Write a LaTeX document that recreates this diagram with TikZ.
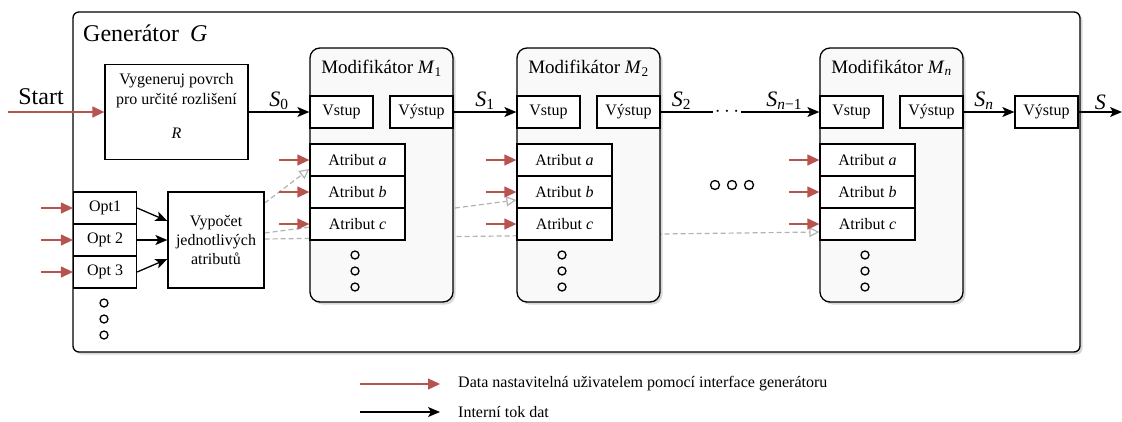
\documentclass[tikz,border=0pt]{standalone}
\usepackage{fontspec}
\setmainfont{Liberation Serif}
\usetikzlibrary{arrows.meta,positioning,shadows,backgrounds}
\definecolor{userred}{HTML}{B85450}
\definecolor{dashgray}{HTML}{B3B3B3}
\definecolor{modfill}{HTML}{F9F9F9}
\tikzset{
	box/.style={draw, line width=1.3pt, fill=white, inner sep=2pt, font=\fontsize{16}{19}\selectfont},
	port/.style={box, minimum width=63pt, minimum height=32pt},
	attr/.style={box, minimum width=95pt, minimum height=32pt},
	modbox/.style={draw, line width=1.3pt, fill=modfill, rounded corners=10pt, minimum width=143pt, minimum height=254pt,
		drop shadow={shadow xshift=2.5pt, shadow yshift=-2.5pt, opacity=0.3}},
	genbox/.style={draw, line width=1.3pt, fill=white, rounded corners=6pt,
		drop shadow={shadow xshift=2.5pt, shadow yshift=-2.5pt, opacity=0.3}},
	flow/.style={line width=1.3pt, -{Stealth[length=12pt, width=10pt, inset=3pt]}},
	userin/.style={userred, line width=1.3pt, -{Triangle[length=12pt, width=11pt]}},
	feed/.style={dashgray, line width=1.2pt, dash pattern=on 5pt off 3pt, -{Triangle[open, length=10pt, width=10pt]}},
	slabel/.style={font=\fontsize{22}{22}\selectfont, inner sep=2pt}
}
% one modifier block: left edge, name suffix, index
\newcommand{\modifikator}[3]{%
	\node[modbox] (m#2) at (#1+71.5, 175) {};
	\node[font=\fontsize{19}{19}\selectfont] (t#2) at (#1+71.5, 68) {Modifikátor \textit{M}\textsubscript{#3}};
	\node[port] (vs#2) at (#1+31.5, 112) {Vstup};
	\node[port] (vy#2) at (#1+111.5, 112) {Výstup};
	\node[attr] (a#2) at (#1+47.5, 160) {Atribut \textit{a}};
	\node[attr] (b#2) at (#1+47.5, 192) {Atribut \textit{b}};
	\node[attr] (c#2) at (#1+47.5, 224) {Atribut \textit{c}};
	\coordinate[left=30pt of a#2] (ia#2);
	\coordinate[left=30pt of b#2] (ib#2);
	\coordinate[left=30pt of c#2] (ic#2);
	\draw[userin] (ia#2) -- (a#2);
	\draw[userin] (ib#2) -- (b#2);
	\draw[userin] (ic#2) -- (c#2);
	\draw[line width=1.3pt] (#1+45, 255) circle (4pt) (#1+45, 271) circle (4pt) (#1+45, 287) circle (4pt);
}

\begin{document}
\begin{tikzpicture}[x=1pt, y=-1pt]
		%%%%% START %%%%%
		\useasboundingbox (0, 0) rectangle (1122, 421);
		
		\node[font=\fontsize{24}{24}\selectfont, anchor=west, inner sep=3pt] (gtitle) at (80, 33) {Generátor\hspace{11pt}\textit{G}};
		\node[font=\fontsize{24}{24}\selectfont] (start) at (41, 97) {Start};
		\coordinate (startin) at (8, 112);
		\node[box, minimum width=143pt, minimum height=95pt, align=center, font=\fontsize{16}{20}\selectfont] (surf) at (176.5, 112) {Vygeneruj povrch\\pro určité rozlišení\\[14pt]\textit{R}\\[-8pt]\mbox{}};
		\draw[userin] (startin) -- (surf);
		
		\modifikator{310}{1}{1}
		\modifikator{517}{2}{2}
		\modifikator{820}{n}{\textit{n}}
		
		\draw[flow] (surf) -- node[slabel, above] (s0) {\textit{S}\textsubscript{0}} (vs1);
		\draw[flow] (vy1) -- node[slabel, above] (s1) {\textit{S}\textsubscript{1}} (vs2);
		\node[inner sep=2pt, font=\fontsize{20}{20}\selectfont] (ell) at (727, 112) {$\cdots$};
		\draw[line width=1.3pt] (vy2) -- node[slabel, above, pos=0.4] (s2) {\textit{S}\textsubscript{2}} (ell);
		\draw[flow] (ell) -- node[slabel, above, pos=0.55] (sn1) {\textit{S}\textsubscript{\textit{n}−1}} (vsn);
		\node[port] (out) at (1046.5, 112) {Výstup};
		\draw[flow] (vyn) -- node[slabel, above, pos=0.4] (sn) {\textit{S}\textsubscript{\textit{n}}} (out);
		\coordinate (result) at (1122, 112);
		\draw[flow] (out) -- node[slabel, above] (s) {\textit{S}} (result);
		
		\node[port] (o1) at (105, 208) {Opt1};
		\node[port] (o2) at (105, 240) {Opt 2};
		\node[port] (o3) at (105, 272) {Opt 3};
		\coordinate[left=32pt of o1] (io1);
		\coordinate[left=32pt of o2] (io2);
		\coordinate[left=32pt of o3] (io3);
		\draw[userin] (io1) -- (o1);
		\draw[userin] (io2) -- (o2);
		\draw[userin] (io3) -- (o3);
		\draw[line width=1.3pt] (104, 303) circle (4pt) (104, 319) circle (4pt) (104, 335) circle (4pt);
		
		\node[box, minimum width=96pt, minimum height=96pt, align=center, font=\fontsize{16}{19}\selectfont] (vyp) at (216, 240) {Vypočet\\jednotlivých\\atributů};
		\draw[flow] (o1.east) -- ([yshift=19pt]vyp.west);
		\draw[flow] (o2) -- (vyp);
		\draw[flow] (o3.east) -- ([yshift=-19pt]vyp.west);
		
		\draw[line width=1.3pt] (715, 185) circle (4.5pt) (732, 185) circle (4.5pt) (749, 185) circle (4.5pt);
		
		\begin{pgfonlayer}{background}
			\draw[genbox] (73, 12) rectangle (1080, 352);
			\draw[feed] ([yshift=37pt]vyp.east) -- ([yshift=-9pt]a1.west);
			\draw[feed] ([yshift=7pt]vyp.east) -- ([yshift=-8pt]b2.west);
			\draw[feed] ([yshift=1pt]vyp.east) -- ([yshift=-8pt]cn.west);
		\end{pgfonlayer}
		
		% legend
		\node[anchor=west, inner sep=3pt, font=\fontsize{16}{19}\selectfont] (k1) at (455, 384) {Data nastavitelná uživatelem pomocí interface generátoru};
		\node[anchor=west, inner sep=3pt, font=\fontsize{16}{19}\selectfont] (k2) at (455, 412) {Interní tok dat};
		\coordinate (k1s) at (360, 384);
		\coordinate (k2s) at (360, 412);
		\draw[userin, shorten >=15pt] (k1s) -- (k1.west);
		\draw[flow, shorten >=15pt] (k2s) -- (k2.west);
		
		%%%%% END %%%%%
	\end{tikzpicture}
\end{document}
